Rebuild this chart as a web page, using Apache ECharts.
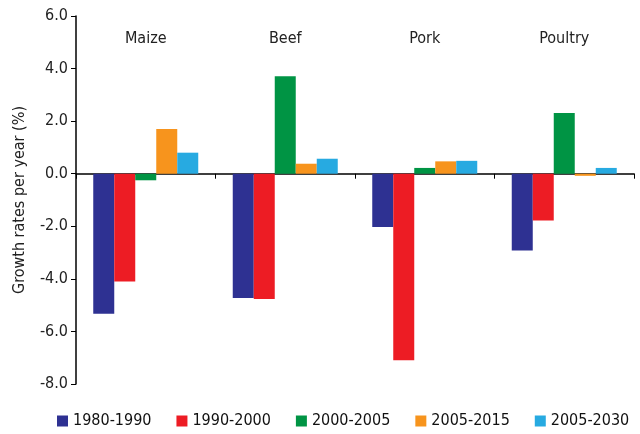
<!DOCTYPE html>
<html>
<head>
<meta charset="utf-8">
<script src="https://cdn.jsdelivr.net/npm/echarts@6/dist/echarts.min.js"></script>
<style>
  html, body { margin: 0; padding: 0; background: #fff; }
  #myChart { width: 640px; height: 434px; }
</style>
</head>
<body>
<div id="myChart"></div>
<script>
// 数据
let categories = ['Maize', 'Beef', 'Pork', 'Poultry']
let periods = ['1980-1990', '1990-2000', '2000-2005', '2005-2015', '2005-2030']
let v1980_1990 = [-5.33, -4.73, -2.03, -2.92]
let v1990_2000 = [-4.1, -4.77, -7.1, -1.78]
let v2000_2005 = [-0.25, 3.71, 0.22, 2.31]
let v2005_2015 = [1.7, 0.38, 0.47, -0.08]
let v2005_2030 = [0.8, 0.57, 0.49, 0.22]
let colors = ['#2e3192', '#ed1c24', '#009444', '#f7941d', '#27aae1']

let font = '"DejaVu Sans Condensed", "DejaVu Sans", sans-serif'
let myChart = echarts.init(document.getElementById('myChart'))

let seriesData = [v1980_1990, v1990_2000, v2000_2005, v2005_2015, v2005_2030]

let option = {
    color: colors,
    textStyle: { fontFamily: font },
    grid: {
        left: 76,
        right: 6,
        top: 16,
        bottom: 50
    },
    legend: {
        bottom: 0,
        left: 52,
        width: 600,
        itemWidth: 11,
        itemHeight: 11,
        itemGap: 25,
        icon: 'rect',
        data: periods,
        textStyle: {
            fontFamily: font,
            fontSize: 16,
            color: '#111'
        }
    },
    xAxis: [
        {
            type: 'category',
            data: categories,
            axisLine: { onZero: true, lineStyle: { color: '#000', width: 1.5 } },
            axisTick: { show: true, length: 5, inside: false, lineStyle: { color: '#000' } },
            axisLabel: { show: false }
        },
        {
            type: 'category',
            data: categories,
            position: 'top',
            axisLine: { show: false },
            axisTick: { show: false },
            axisLabel: {
                inside: true,
                margin: 15,
                fontFamily: font,
                fontSize: 16,
                color: '#222'
            }
        }
    ],
    yAxis: {
        type: 'value',
        min: -8,
        max: 6,
        interval: 2,
        name: 'Growth rates per year (%)',
        nameLocation: 'middle',
        nameGap: 48,
        nameTextStyle: { fontFamily: font, fontSize: 16, color: '#222' },
        axisLine: { show: true, lineStyle: { color: '#000', width: 1.5 } },
        axisTick: { show: true, length: 5, lineStyle: { color: '#000' } },
        splitLine: { show: false },
        axisLabel: {
            fontFamily: font,
            fontSize: 16,
            color: '#222',
            margin: 8,
            formatter: v => v.toFixed(1)
        }
    },
    series: periods.map((p, i) => ({
        name: p,
        type: 'bar',
        data: seriesData[i],
        barWidth: 21,
        barGap: '0%',
        xAxisIndex: 0
    }))
}
myChart.setOption(option)

window.addEventListener('resize', () => {
    myChart.resize()
})
</script>
</body>
</html>
